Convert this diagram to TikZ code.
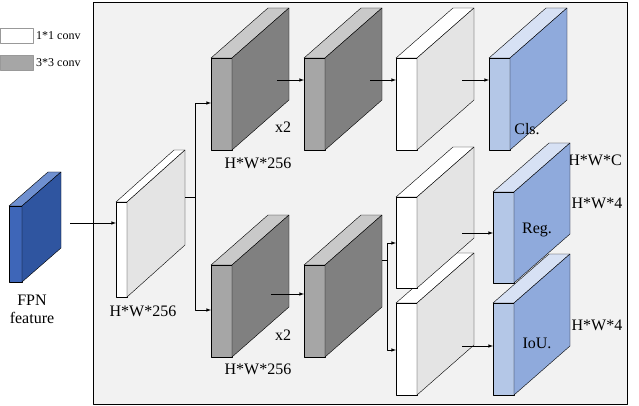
\documentclass[tikz,border=0pt]{standalone}
\usepackage{fontspec}
\setmainfont{Liberation Serif}
\definecolor{grayfront}{HTML}{A6A6A6}
\definecolor{grayside}{HTML}{808080}
\definecolor{graytop}{HTML}{C9C9C9}
\definecolor{whiteside}{HTML}{E4E4E4}
\definecolor{bluefront}{HTML}{B4C7E7}
\definecolor{blueside}{HTML}{8FAADC}
\definecolor{bluetop}{HTML}{D7E1F4}
\definecolor{fpnfront}{HTML}{3E66B8}
\definecolor{fpnside}{HTML}{2F55A0}
\definecolor{fpntop}{HTML}{6F90D0}
\tikzset{
	lbl/.style={font=\fontsize{16}{18}\selectfont, inner sep=0pt},
	small/.style={font=\fontsize{12}{14}\selectfont, inner sep=0pt, anchor=west},
	conn/.style={-latex, line width=0.6pt},
	line/.style={line width=0.6pt}
}
% cube: name, x, y (front top left), w, h, dx, dy, front, side, top
\newcommand{\cube}[9]{%
	\filldraw[fill=#8] (#2,#3) rectangle ++(#4,#5);
	\filldraw[fill=#9] (#2+#4,#3) -- ++(#6,#7) -- ++(0,#5) -- ++(-#6,-#7) -- cycle;
	\coordinate (#1) at (#2,#3);
	\coordinate (#1-in) at (#2,#3+#5/2);
	\coordinate (#1-side) at (#2+#4+#6/2,#3+#5/2+#7/2);
}
\newcommand{\cubetop}[8]{%
	\filldraw[fill=#8] (#2,#3) -- ++(#6,#7) -- ++(#4,0) -- ++(-#6,-#7) -- cycle;
}
\begin{document}
\begin{tikzpicture}[x=1pt, y=-1pt, line join=round]
	\useasboundingbox (0,0) rectangle (639,406);

	% frame
	\draw[fill=black!5, line width=0.8pt] (93,2) rectangle (627,404);

	% legend
	\draw[fill=white, draw=black!40] (0,28) rectangle (33,43);
	\node[small] (l1) at (36,35.5) {1*1 conv};
	\draw[fill=grayfront, draw=black!40] (0,55) rectangle (33,70);
	\node[small] (l3) at (36,62.5) {3*3 conv};

	% fpn
	\cubetop{fpn}{9}{206}{13}{76}{39}{-34}{fpntop}
	\cube{fpn}{9}{206}{13}{76}{39}{-34}{fpnfront}{fpnside}{}
	\node[lbl, align=center] (fpnlbl) at (32,309) {FPN\\feature};

	% 1*1 conv
	\cubetop{c0}{116}{202}{11}{95}{58}{-52}{white}
	\cube{c0}{116}{202}{11}{95}{58}{-52}{white}{whiteside}{}
	\node[lbl] (c0lbl) at (143,311) {H*W*256};

	% top branch
	\foreach \n/\x/\f/\s/\t in {t1/211/grayfront/grayside/graytop, t2/304/grayfront/grayside/graytop,
		t3/396/white/whiteside/white, t4/489/bluefront/blueside/bluetop} {
		\cubetop{\n}{\x}{58}{21}{92}{57}{-50}{\t}
		\cube{\n}{\x}{58}{21}{92}{57}{-50}{\f}{\s}{}
	}
	\node[lbl] (t1lbl) at (258,163) {H*W*256};
	\node[lbl] (t1x) at (283,127) {x2};
	\node[lbl] (cls) at (527,129) {Cls.};
	\node[lbl] (clsdim) at (595,160) {H*W*C};

	% bottom branch
	\foreach \n/\x in {b1/211, b2/304} {
		\cubetop{\n}{\x}{265}{21}{92}{57}{-50}{graytop}
		\cube{\n}{\x}{265}{21}{92}{57}{-50}{grayfront}{grayside}{}
	}
	\node[lbl] (b1lbl) at (258,369) {H*W*256};
	\node[lbl] (b1x) at (283,335) {x2};

	\cubetop{reg0}{396}{303}{21}{92}{57}{-50}{white}
	\cube{reg0}{396}{303}{21}{92}{57}{-50}{white}{whiteside}{}
	\cubetop{iou0}{396}{197}{21}{91}{57}{-50}{white}
	\cube{iou0}{396}{197}{21}{91}{57}{-50}{white}{whiteside}{}

	\cubetop{iou}{493}{303}{21}{92}{56}{-49}{bluetop}
	\cube{iou}{493}{303}{21}{92}{56}{-49}{bluefront}{blueside}{}
	\cubetop{reg}{493}{192}{21}{91}{56}{-49}{bluetop}
	\cube{reg}{493}{192}{21}{91}{56}{-49}{bluefront}{blueside}{}
	\node[lbl] (reglbl) at (537,230) {Reg.};
	\node[lbl] (ioulbl) at (537,343) {IoU.};
	\node[lbl] (regdim) at (597,203) {H*W*4};
	\node[lbl] (ioudim) at (597,325) {H*W*4};

	% connectors
	\coordinate (s0) at (195,197);
	\coordinate (s1) at (387,260);
	\draw[conn] (70,223) -- (c0-in |- 0,223);
	\draw[line] (185,197) -- (s0);
	\draw[conn] (s0) |- (211,103);
	\draw[conn] (s0) |- (211,310);
	\draw[conn] (277,80) -- (304,80);
	\draw[conn] (370,80) -- (396,80);
	\draw[conn] (462,80) -- (489,80);
	\draw[conn] (271,294) -- (304,294);
	\draw[line] (382,260) -- (s1);
	\draw[conn] (s1) |- (396,243);
	\draw[conn] (s1) |- (396,350);
	\draw[conn] (462,233) -- (493,233);
	\draw[conn] (462,346) -- (493,346);
\end{tikzpicture}
\end{document}
